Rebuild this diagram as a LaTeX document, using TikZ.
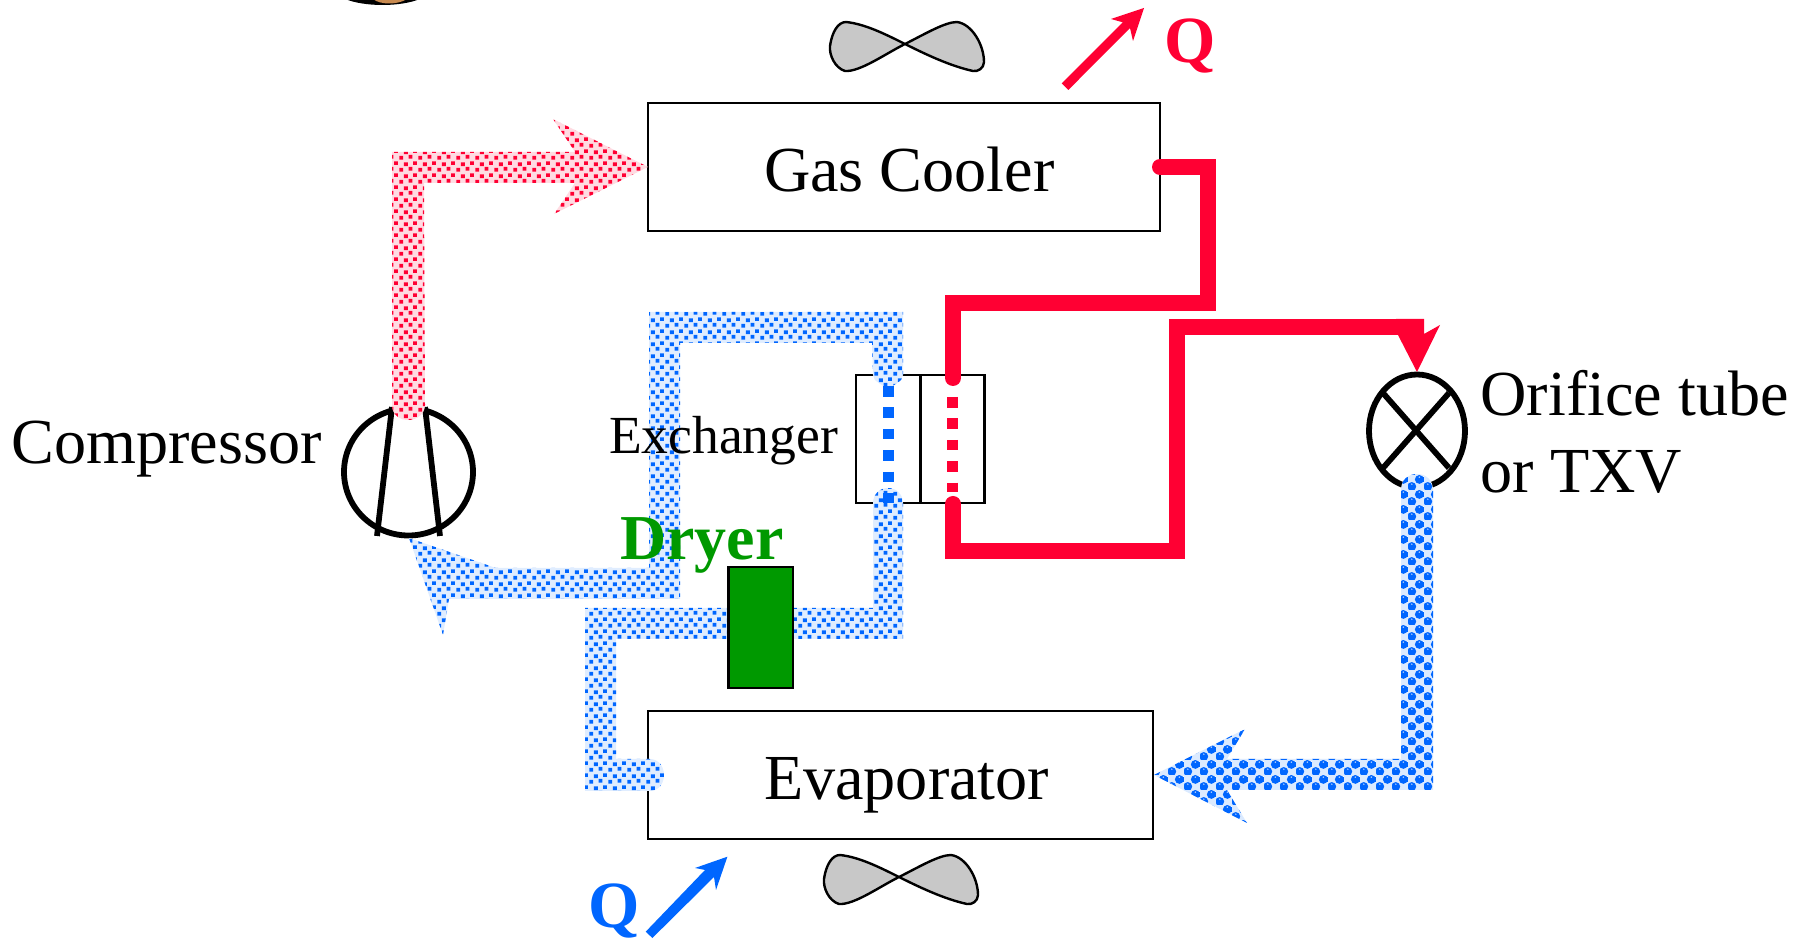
\documentclass[tikz,border=0pt]{standalone}
\usepackage{fontspec}
\setmainfont{Liberation Serif}
\usetikzlibrary{patterns,shapes.geometric}
\definecolor{refred}{HTML}{FF0033}
\definecolor{refblue}{HTML}{0066FF}
\definecolor{refgreen}{HTML}{009900}
\definecolor{fangray}{HTML}{C8C8C8}
\definecolor{skin}{HTML}{C88A50}
\pgfdeclarepatternformonly{refdots}{\pgfqpoint{0pt}{0pt}}{\pgfqpoint{9.5pt}{6pt}}{\pgfqpoint{9.5pt}{6pt}}{%
  \pgfpathrectangle{\pgfqpoint{0.2pt}{0.2pt}}{\pgfqpoint{2pt}{2pt}}%
  \pgfpathrectangle{\pgfqpoint{5pt}{0.8pt}}{\pgfqpoint{2pt}{2pt}}%
  \pgfpathrectangle{\pgfqpoint{2.6pt}{3.2pt}}{\pgfqpoint{2pt}{2pt}}%
  \pgfpathrectangle{\pgfqpoint{7.4pt}{3.8pt}}{\pgfqpoint{2pt}{2pt}}%
  \pgfusepath{fill}}
\pgfdeclarepatterninherentlycolored{refbubbles}{\pgfqpoint{0pt}{0pt}}{\pgfqpoint{8pt}{7.5pt}}{\pgfqpoint{8pt}{7.5pt}}{%
  \pgfsetfillcolor{refblue}%
  \pgfpathcircle{\pgfqpoint{2pt}{1.875pt}}{2.35pt}%
  \pgfpathcircle{\pgfqpoint{6pt}{5.625pt}}{2.35pt}%
  \pgfusepath{fill}%
  \pgfsetfillcolor{white!70!refblue}%
  \pgfpathcircle{\pgfqpoint{2pt}{3.1pt}}{0.45pt}%
  \pgfpathcircle{\pgfqpoint{6pt}{6.85pt}}{0.45pt}%
  \pgfusepath{fill}}
\tikzset{
  boxnode/.style={draw=black,line width=1.45pt,rectangle,inner sep=0pt,outer sep=0pt},
  txt/.style={anchor=base west,inner sep=0pt,outer sep=0pt,font=\fontsize{32.1}{38}\selectfont},
  redpipe/.style={draw=refred,line width=8pt,miter limit=10,line join=miter},
  reddots/.style={preaction={fill=refred!14},pattern=refdots,pattern color=refred},
  bluedots/.style={preaction={fill=refblue!12},pattern=refdots,pattern color=refblue},
  bluebubbles/.style={preaction={fill=refblue!14},pattern=refbubbles},
  ringline/.style={draw=black,line width=2.9pt},
  fanshape/.style={draw=black,line width=1.2pt,fill=fangray,line join=round},
}
\newcommand{\fanpath}{(905,44) .. controls (925,34) and (945,22) .. (957,22) .. controls (972,24) and (984,45) .. (984,62) .. controls (984,68) and (978,72) .. (973,71) .. controls (950,66) and (925,54) .. (905,44) .. controls (885,54) and (860,72) .. (845,71) .. controls (835,68) and (829,55) .. (830,46) .. controls (832,32) and (838,22) .. (846,22) .. controls (865,24) and (885,34) .. (905,44) -- cycle}
\begin{document}
\begin{tikzpicture}[x=0.5pt,y=-0.5pt]
\useasboundingbox (0,0) rectangle (1806,940);
% clipped figure at the top edge
\begin{scope}
\clip (0,0) rectangle (1806,940);
\fill[black] (345,-1) .. controls (365,7) and (400,7) .. (420,-1) -- cycle;
\fill[skin] (373,-1) .. controls (380,5) and (398,5) .. (407,-1) -- cycle;
\end{scope}
% exchanger
\node[boxnode] (exA) at (888,439) [minimum width=32pt,minimum height=64pt] {};
\node[boxnode] (exB) at (952.5,439) [minimum width=32pt,minimum height=64pt] {};
% boxes
\node[boxnode,minimum width=256pt,minimum height=64pt] (gascooler) at (904,167) {};
\node[boxnode,minimum width=252.5pt,minimum height=64pt] (evaporator) at (900.5,775) {};
% compressor ring and valve
\node[ellipse,ringline,minimum width=64.5pt,minimum height=63.5pt,inner sep=0pt] (compressor) at (408.5,472) {};
\draw[ringline] (392,407) -- (377,536);
\draw[ringline] (425,407) -- (440,536);
\node[ellipse,ringline,minimum width=48pt,minimum height=56.5pt,inner sep=0pt] (valve) at (1417,431) {};
\draw[ringline] (1383,393) -- (1449,468);
\draw[ringline] (1383,468) -- (1449,393);
% red dotted discharge arrow
\path[reddots] (392,152) -- (575,152) -- (553,119) -- (648,167) -- (554,214) -- (575,183) -- (424,183) -- (425,405) .. controls (425,414) and (417,420) .. (408,420) .. controls (399,420) and (392,414) .. (392,405) -- cycle;
% blue dotted suction
\path[bluedots] (409,538) -- (496,568) -- (649,568) -- (649,312) -- (903,312) -- (903,375) .. controls (903,382) and (893,384) .. (888,390) .. controls (883,384) and (873,382) .. (873,375) -- (872,343) -- (680,343) -- (680,599) -- (449,599) -- (443,635) -- cycle;
\path[bluedots] (873,503) .. controls (873,494) and (880,488) .. (888,488) .. controls (896,488) and (903,494) .. (903,503) -- (903,639) -- (616,639) -- (616,759) -- (650,759) .. controls (658,759) and (664,766) .. (664,775) .. controls (664,784) and (658,791) .. (650,791) -- (585,791) -- (585,608) -- (873,608) -- cycle;
% blue bubble pipe
\path[bluebubbles] (1401,490) .. controls (1401,480) and (1408,474) .. (1417,474) .. controls (1426,474) and (1433,480) .. (1433,490) -- (1433,790) -- (1227,790) -- (1247,823) -- (1154,775) -- (1245,729) -- (1227,759) -- (1401,759) -- cycle;
% dashed tubes in exchanger
\draw[refblue,line width=5.5pt,dash pattern=on 5.35pt off 5.35pt] (888,386) -- (888,503);
\draw[refred,line width=5.5pt,dash pattern=on 5.35pt off 5.35pt] (952.5,397) -- (952.5,492);
% red solid pipes
\draw[redpipe,line cap=round] (1160,167) -- (1208,167) -- (1208,303) -- (953,303) -- (953,378);
\draw[redpipe,line cap=round] (953,504) -- (953,551.5) -- (1176.5,551.5) -- (1176.5,327) -- (1400,327);
\fill[refred] (1396,319) -- (1424,319) -- (1424,334) -- (1440,325) -- (1417,372) -- (1398,335) -- (1396,335) -- cycle;
% dryer
\node[boxnode,fill=refgreen,minimum width=32.25pt,minimum height=60.5pt] (dryer) at (760.75,627.5) {};
% heat arrows
\fill[refred] (1061.7,83.3) -- (1122.7,22.3) -- (1111,19) -- (1144,8) -- (1133,41) -- (1130,28) -- (1068.3,90) -- cycle;
\fill[refblue] (645.7,931.7) -- (705,870) -- (695,868) -- (727.4,856.7) -- (716,890) -- (714,877) -- (652.4,938) -- cycle;
% fans
\path[fanshape] \fanpath;
\begin{scope}[shift={(-6,833)}]
\path[fanshape] \fanpath;
\end{scope}
% labels
\node[txt] (lgas) at (764,192) {Gas Cooler};
\node[txt] (levap) at (764,800) {Evaporator};
\node[txt] (lcomp) at (11.5,464) {Compressor};
\node[txt] (lorif) at (1480.5,416) {Orifice tube};
\node[txt] (ltxv) at (1480.5,492.5) {or TXV};
\node[txt,font=\fontsize{26.8}{32}\selectfont] (lex) at (609,454) {Exchanger};
\node[txt,font=\fontsize{32}{36}\bfseries\selectfont,text=refgreen] (ldry) at (620,560) {Dryer};
\node[txt,font=\fontsize{33}{36}\bfseries\selectfont,text=refred] (qh) at (1164,63) {Q};
\node[txt,font=\fontsize{33}{36}\bfseries\selectfont,text=refblue] (qc) at (588,928) {Q};
\end{tikzpicture}
\end{document}
